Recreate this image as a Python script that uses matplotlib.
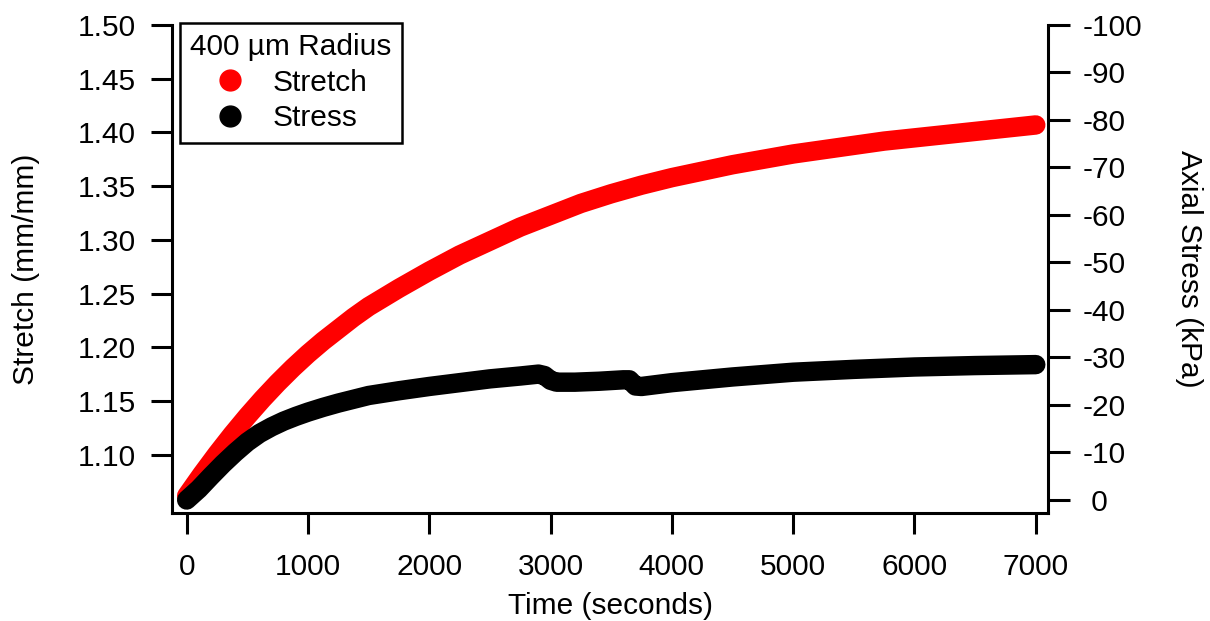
import matplotlib
matplotlib.use("Agg")
import matplotlib.pyplot as plt
from matplotlib.lines import Line2D
from matplotlib.ticker import FixedLocator, FixedFormatter

plt.rcParams['font.family'] = ['Liberation Sans', 'DejaVu Sans']

# ---- data ----
stretch_time = [0, 125, 250, 375, 500, 625, 750, 875, 1000, 1125, 1250, 1375, 1500,
                1750, 2000, 2250, 2500, 2750, 3000, 3250, 3500, 3750, 4000, 4250,
                4500, 4750, 5000, 5250, 5500, 5750, 6000, 6250, 6500, 6750, 7000]
stretch_vals = [1.062, 1.082, 1.101, 1.119, 1.136, 1.152, 1.167, 1.181, 1.194, 1.206,
                1.217, 1.228, 1.238, 1.255, 1.271, 1.286, 1.299, 1.312, 1.323, 1.334,
                1.343, 1.351, 1.358, 1.364, 1.370, 1.375, 1.380, 1.384, 1.388, 1.392,
                1.395, 1.398, 1.401, 1.404, 1.407]

stress_time = [0, 100, 200, 300, 400, 500, 600, 700, 800, 900, 1000, 1125, 1250, 1375,
               1500, 1750, 2000, 2250, 2500, 2750, 2900, 2950, 3000, 3050, 3200, 3400,
               3600, 3650, 3700, 3750, 4000, 4250, 4500, 4750, 5000, 5500, 6000, 6500,
               7000]
stress_vals = [0.0, -2.3, -5.0, -7.6, -10.0, -12.2, -14.0, -15.4, -16.6, -17.6, -18.5,
               -19.5, -20.4, -21.2, -22.0, -23.0, -23.9, -24.7, -25.5, -26.1, -26.5,
               -26.2, -25.2, -24.8, -24.8, -25.0, -25.3, -25.3, -24.0, -23.9, -24.7,
               -25.3, -25.9, -26.4, -26.9, -27.5, -28.0, -28.3, -28.5]

x_ticks = [0, 1000, 2000, 3000, 4000, 5000, 6000, 7000]
left_ticks = [1.10, 1.15, 1.20, 1.25, 1.30, 1.35, 1.40, 1.45, 1.50]
right_ticks = [0, -10, -20, -30, -40, -50, -60, -70, -80, -90, -100]
right_labels = [' 0', '-10', '-20', '-30', '-40', '-50', '-60', '-70', '-80', '-90', '-100']

FS = 21.5
LW = 2.2

fig = plt.figure(figsize=(12.10, 6.21), dpi=100)
ax = fig.add_axes([172/1210, 1-513/621, (1048-172)/1210, (513-25)/621])
ax2 = ax.twinx()

ax.plot(stretch_time, stretch_vals, color='#ff0000', lw=14, solid_capstyle='round',
        solid_joinstyle='round')
ax2.plot(stress_time, stress_vals, color='black', lw=14, solid_capstyle='round',
         solid_joinstyle='round')

ax.set_xlim(-121, 7101)
ax.set_ylim(1.046, 1.50)
ax2.set_ylim(2.74, -100)

ax.xaxis.set_major_locator(FixedLocator(x_ticks))
ax.yaxis.set_major_locator(FixedLocator(left_ticks))
ax.yaxis.set_major_formatter(FixedFormatter(['%.2f' % v for v in left_ticks]))
ax2.yaxis.set_major_locator(FixedLocator(right_ticks))
ax2.yaxis.set_major_formatter(FixedFormatter(right_labels))
for lbl in ax2.get_yticklabels():
    lbl.set_horizontalalignment('left')

for a in (ax, ax2):
    a.spines['top'].set_visible(False)
    for s in a.spines.values():
        s.set_linewidth(LW)
ax2.spines['left'].set_visible(False)
ax2.spines['bottom'].set_visible(False)
ax.spines['right'].set_visible(False)

ax.tick_params(axis='both', direction='out', length=15, width=LW, labelsize=FS)
ax.tick_params(axis='x', pad=14)
ax.tick_params(axis='y', pad=11)
ax2.tick_params(axis='y', direction='out', length=16, width=LW, labelsize=FS, pad=9)

ax.set_xlabel('Time (seconds)', fontsize=FS, labelpad=8)
ax.set_ylabel('Stretch (mm/mm)', fontsize=FS, labelpad=27)
ax2.set_ylabel('Axial Stress (kPa)', fontsize=FS, rotation=-90, labelpad=44)

handles = [Line2D([], [], color='#ff0000', marker='o', linestyle='none', markersize=15),
           Line2D([], [], color='black', marker='o', linestyle='none', markersize=15)]
leg = ax2.legend(handles, ['Stretch', 'Stress'], title='400 µm Radius',
                 loc='upper left', bbox_to_anchor=(180/1210, 1-23/621),
                 bbox_transform=fig.transFigure, borderaxespad=0, fontsize=FS,
                 title_fontsize=FS, frameon=True, fancybox=False, framealpha=1,
                 edgecolor='black', handletextpad=0.95, handlelength=1.0,
                 borderpad=0.35, labelspacing=0.25)
leg.get_frame().set_linewidth(1.8)

fig.savefig('out.png', dpi=100, facecolor='white')
